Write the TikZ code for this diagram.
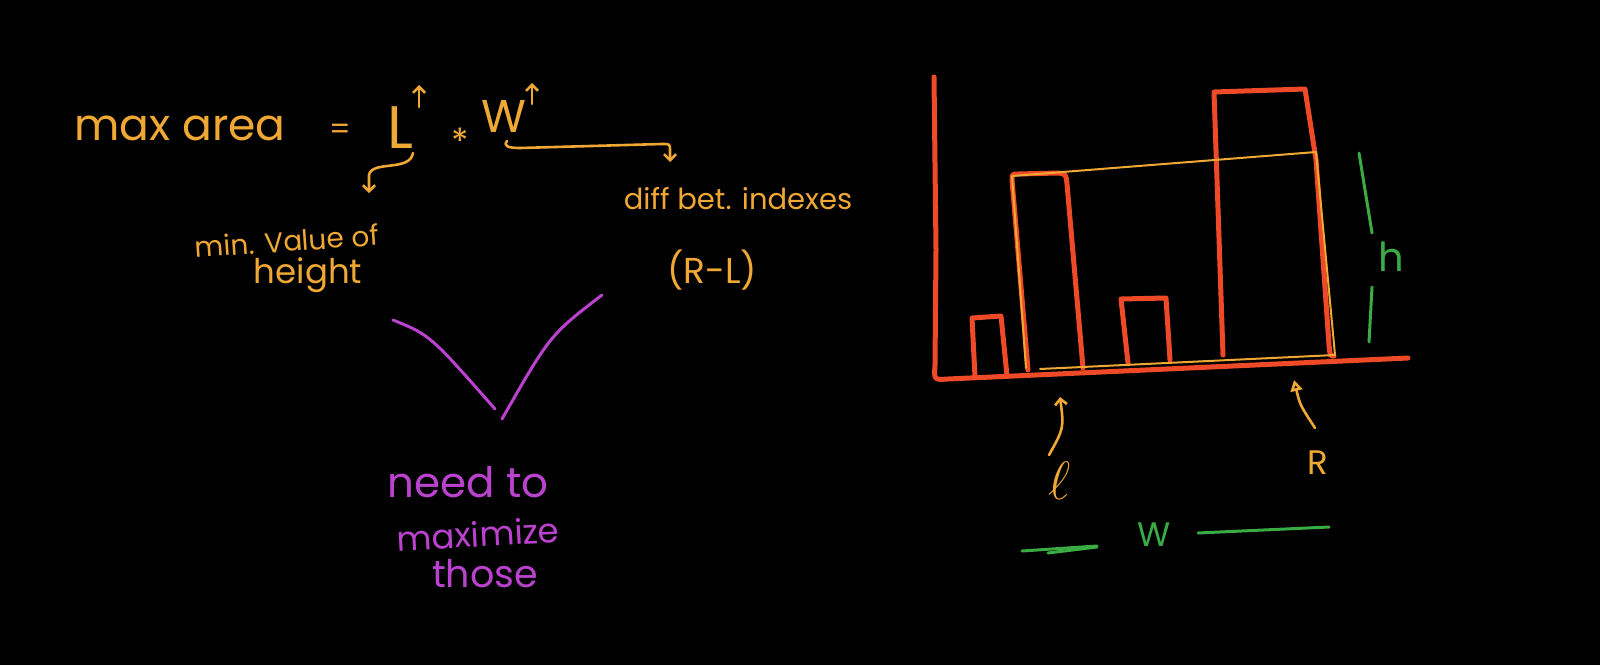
\documentclass[tikz,border=0pt]{standalone}
\usepackage{fontspec}
\setmainfont{Poppins}
\usetikzlibrary{arrows.meta}
\definecolor{ink}{RGB}{240,168,52}
\definecolor{barred}{RGB}{238,74,40}
\definecolor{purp}{RGB}{186,66,206}
\definecolor{grn}{RGB}{58,172,68}
\begin{document}
\begin{tikzpicture}[x=1pt,y=-1pt,
  txt/.style={text=ink, inner sep=0pt, font=\fontsize{#1}{#1}\selectfont},
  ptxt/.style={text=purp, inner sep=0pt, font=\fontsize{#1}{#1}\selectfont},
  gtxt/.style={text=grn, inner sep=0pt, font=\fontsize{#1}{#1}\selectfont},
  pen/.style={draw=ink, line width=2.6pt, line cap=round, line join=round},
  barpen/.style={draw=barred, line width=5pt, line cap=round, line join=round},
  rectpen/.style={draw=ink, line width=2pt, line cap=round, line join=round},
  ppen/.style={draw=purp, line width=3pt, line cap=round},
  gpen/.style={draw=grn, line width=3pt, line cap=round},
  barb/.style={-{Straight Barb[length=6pt,width=12pt]}},
]
\fill[black] (0,0) rectangle (1600,665);
\useasboundingbox (0,0) rectangle (1600,665);

% formula
\node[txt=44] (maxarea) at (180,128) {max area};
\node[txt=30] (eq) at (340,132) {=};
\node[txt=60] (L) at (400,128) {L};
\node[txt=36] (star) at (460,141) {*};
\node[txt=46] (W) at (504,116) {W};
\coordinate (Lup1) at (419,107);
\coordinate (Lup2) at (419,85);
\coordinate (Wup1) at (532,104);
\coordinate (Wup2) at (532,83);
\draw[pen, barb] (Lup1) -- (Lup2);
\draw[pen, barb] (Wup1) -- (Wup2);

% labels
\node[txt=28, rotate=4] (minval) at (287,241) {min. Value of};
\node[txt=34] (height) at (308,275) {height};
\node[txt=29] (diff) at (738,199) {diff bet. indexes};
\node[txt=36] (RL) at (712,270) {(R-L)};

% braces
\coordinate (Lb) at (413,153);
\coordinate (Lend) at (369,193);
\draw[pen, barb] (Lb) .. controls (410,172) and (372,160) .. (369,175) -- (Lend);
\coordinate (Wb) at (507,141);
\coordinate (Wend) at (670,162);
\draw[pen, barb] (Wb) .. controls (503,146) and (508,148) .. (520,148) -- (662,144) .. controls (670,144) .. (670,150) -- (Wend);

% purple
\node[ptxt=42] (need) at (468,482) {need to};
\node[ptxt=34, rotate=3] (maxim) at (478,534) {maximize};
\node[ptxt=38] (those) at (485,574) {those};
\coordinate (V1) at (393,320);
\coordinate (V2) at (602,295);
\draw[ppen] (V1) .. controls (430,335) .. (495,409);
\draw[ppen] (V2) .. controls (550,335) .. (502,419);

% bars
\draw[barpen] (934,77) -- (936,250) -- (935,365) .. controls (934,380) .. (948,379) -- (1408,358);
\draw[barpen] (975,377) -- (972,318) -- (1001,316) -- (1007,376);
\draw[barpen] (1028,370) -- (1012,180) .. controls (1012,174) .. (1018,174) -- (1058,173) .. controls (1066,174) .. (1067,184) -- (1083,368);
\draw[barpen] (1128,363) -- (1121,299) -- (1166,298) -- (1170,360);
\draw[barpen] (1223,355) -- (1214,92) -- (1305,89) -- (1316,160) -- (1329,345) .. controls (1330,356) .. (1334,356);

% yellow rectangle
\draw[rectpen] (1026,368) -- (1012,176) -- (1316,152) -- (1335,355) -- (1040,369);

% h
\node[gtxt=40] (h) at (1391,257) {h};
\coordinate (h1) at (1359,153);
\coordinate (h2) at (1369,342);
\draw[gpen] (h1) -- (1372,233);
\draw[gpen] (1372,287) -- (h2);

% l and R
\node[txt=20] (lsym) at (1060,481) {\scalebox{2.6}{$\ell$}};
\node[txt=34] (R) at (1318,463) {R};
\coordinate (ltip) at (1060,397);
\coordinate (Rtip) at (1294,380);
\draw[pen, barb] (1049,455) .. controls (1064,428) .. (ltip);
\draw[pen, -{Triangle[open,length=11pt,width=12pt]}] (1315,428) .. controls (1300,405) .. (Rtip);

% W bottom
\node[gtxt=34] (Wg) at (1154,535) {W};
\draw[gpen] (1022,551) -- (1097,546);
\draw[gpen] (1048,553) -- (1097,547);
\draw[gpen] (1198,533) -- (1329,527);
\end{tikzpicture}
\end{document}
